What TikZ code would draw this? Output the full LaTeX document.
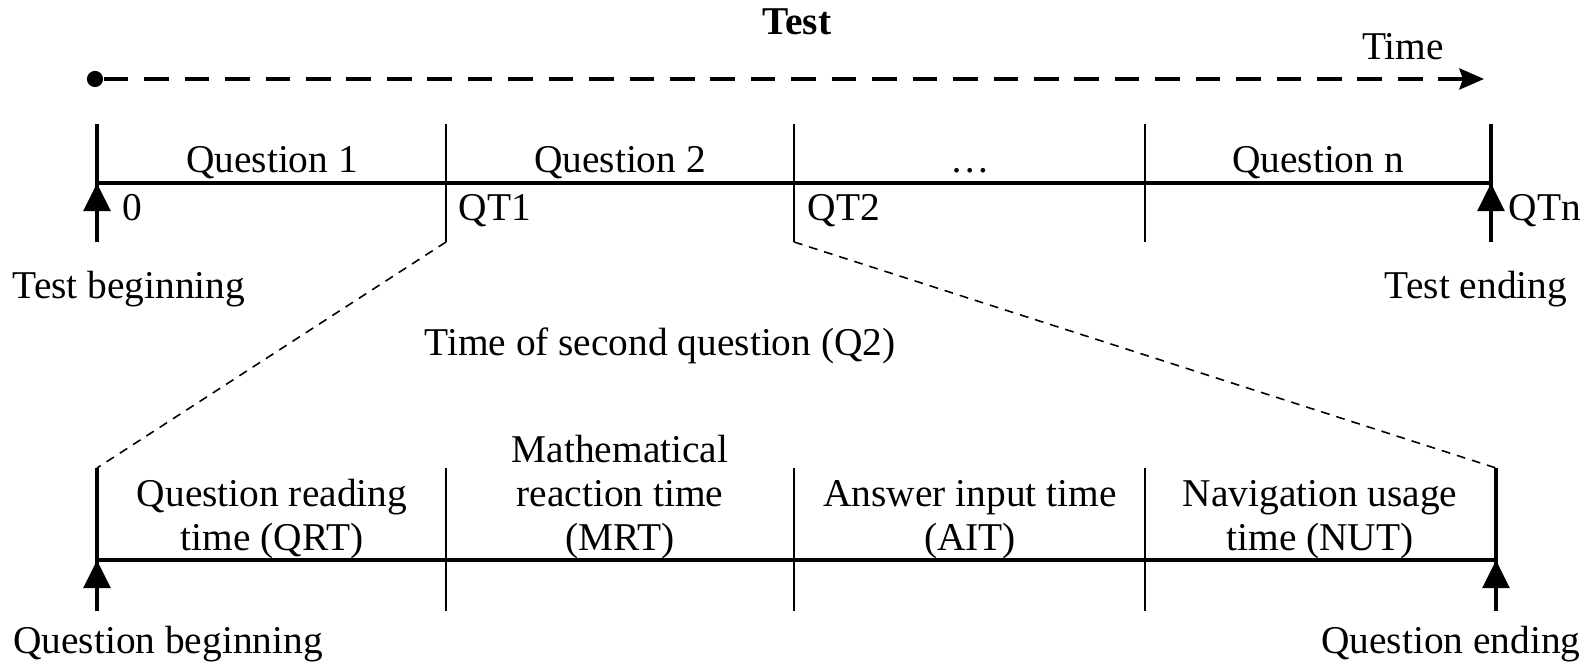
\documentclass[tikz,border=0pt]{standalone}
\usepackage{fontspec}
\setmainfont{Liberation Serif}
\usetikzlibrary{arrows.meta,positioning}

\begin{document}
\begin{tikzpicture}[
    x=0.01cm, y=-0.01cm,
    every node/.style={font=\fontsize{11.2}{12.5}\selectfont, inner sep=0pt},
    lbl/.style={anchor=base},
    seglbl/.style={anchor=south, align=center},
    axisline/.style={line width=0.9pt},
    endtick/.style={line width=1.3pt},
    midtick/.style={line width=0.7pt},
    uparr/.style={line width=1.3pt, -{Triangle[width=7.5pt,length=8pt]}},
    zoomline/.style={line width=0.45pt, dash pattern=on 2.5pt off 2pt},
    timearr/.style={line width=1pt, dash pattern=on 7pt off 4.5pt, -{Stealth[length=7pt,width=6pt,inset=1pt]}}
]
\useasboundingbox (0,0) rectangle (1596,665);

% time arrow
\node[lbl, font=\fontsize{11.2}{12.5}\selectfont\bfseries] (test) at (797,35) {Test};
\node[circle, fill, minimum size=4.6pt] (start) at (95,79) {};
\coordinate (tend) at (1484,79);
\draw[timearr] (start) -- (tend);
\node[lbl] (time) at (1403,60) {Time};

% test line
\coordinate (t0) at (97,183);  \coordinate (t0u) at (97,124);  \coordinate (t0d) at (97,242);
\coordinate (t1) at (446,183); \coordinate (t1u) at (446,124); \coordinate (t1d) at (446,242);
\coordinate (t2) at (794,183); \coordinate (t2u) at (794,124); \coordinate (t2d) at (794,242);
\coordinate (t3) at (1145,183);\coordinate (t3u) at (1145,124);\coordinate (t3d) at (1145,242);
\coordinate (t4) at (1491,183);\coordinate (t4u) at (1491,124);\coordinate (t4d) at (1491,242);

\draw[axisline] (t0) -- (t4);
\draw[endtick] (t0u) -- (t0d);
\draw[midtick] (t1u) -- (t1d);
\draw[midtick] (t2u) -- (t2d);
\draw[midtick] (t3u) -- (t3d);
\draw[endtick] (t4u) -- (t4d);
\draw[uparr] (t0d) -- (t0);
\draw[uparr] (t4d) -- (t4);

\node[lbl] (q1) at (272,172.5) {Question 1};
\node[lbl] (q2) at (620,172.5) {Question 2};
\node[lbl] (qd) at (970,172.5) {\dots};
\node[lbl] (qn) at (1318,172.5) {Question n};

\node[anchor=base west] (z0) at (122,221) {0};
\node[anchor=base west] (qt1) at (458,221) {QT1};
\node[anchor=base west] (qt2) at (807,221) {QT2};
\node[anchor=base west] (qtn) at (1508,221) {QTn};

\node[lbl] (tbeg) at (129,299) {Test beginning};
\node[lbl] (tendl) at (1476,299) {Test ending};

\node[lbl] (q2time) at (660,356) {Time of second question (Q2)};

% question line
\coordinate (s0) at (97,560);  \coordinate (s0u) at (97,468);  \coordinate (s0d) at (97,611);
\coordinate (s1) at (446,560); \coordinate (s1u) at (446,468); \coordinate (s1d) at (446,611);
\coordinate (s2) at (794,560); \coordinate (s2u) at (794,468); \coordinate (s2d) at (794,611);
\coordinate (s3) at (1145,560);\coordinate (s3u) at (1145,468);\coordinate (s3d) at (1145,611);
\coordinate (s4) at (1496,560);\coordinate (s4u) at (1496,468);\coordinate (s4d) at (1496,611);

\draw[zoomline] (t1d) -- (s0u);
\draw[zoomline] (t2d) -- (s4u);

\draw[axisline] (s0) -- (s4);
\draw[endtick] (s0u) -- (s0d);
\draw[midtick] (s1u) -- (s1d);
\draw[midtick] (s2u) -- (s2d);
\draw[midtick] (s3u) -- (s3d);
\draw[endtick] (s4u) -- (s4d);
\draw[uparr] (s0d) -- (s0);
\draw[uparr] (s4d) -- (s4);

\node[seglbl] (qrt) at (272,560) {Question reading\\time (QRT)};
\node[seglbl] (mrt) at (620,560) {Mathematical\\reaction time\\(MRT)};
\node[seglbl] (ait) at (970,560) {Answer input time\\(AIT)};
\node[seglbl] (nut) at (1320,560) {Navigation usage\\time (NUT)};

\node[lbl] (qbeg) at (168,654) {Question beginning};
\node[lbl] (qend) at (1451,654) {Question ending};
\end{tikzpicture}
\end{document}
